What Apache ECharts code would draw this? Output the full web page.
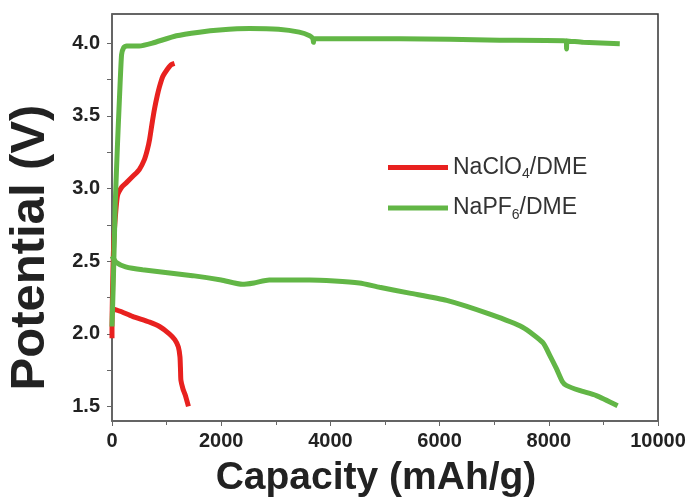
<!DOCTYPE html>
<html>
<head>
<meta charset="utf-8">
<script src="https://cdn.jsdelivr.net/npm/echarts@6/dist/echarts.min.js"></script>
<style>
  html, body { margin: 0; padding: 0; background: #fff; }
  #chart { width: 695px; height: 503px; }
</style>
</head>
<body>
<div id="chart"></div>
<script>
// capacity (mAh/g), potential (V)
var naclo4Charge = [[0,1.97],[0,2.05],[10,2.3],[25,2.55],[45,2.72],[100,2.95],[180,3.01],[265,3.04],[400,3.09],[500,3.13],[595,3.2],[650,3.27],[690,3.34],[735,3.45],[780,3.55],[830,3.64],[870,3.70],[930,3.77],[995,3.81],[1080,3.85],[1145,3.86]];
var naclo4Discharge = [[30,2.17],[150,2.155],[375,2.12],[690,2.08],[870,2.05],[1050,2.0],[1150,1.96],[1215,1.91],[1245,1.84],[1255,1.75],[1262,1.68],[1300,1.62],[1340,1.58],[1400,1.5]];
var napf6Charge = [[0,2.05],[20,2.3],[40,2.6],[60,2.9],[100,3.3],[140,3.65],[175,3.92],[215,3.97],[265,3.98],[500,3.98],[740,4.0],[1180,4.05],[1600,4.075],[1970,4.09],[2520,4.1],[3050,4.095],[3430,4.075],[3620,4.05],[3680,4.03],[3690,4.005],[3700,4.03],[3800,4.03],[5270,4.03],[7100,4.02],[8320,4.015],[8325,3.96],[8335,4.015],[8630,4.005],[9300,3.995]];
var napf6Discharge = [[0,2.535],[80,2.49],[250,2.46],[560,2.44],[1475,2.40],[2000,2.37],[2390,2.34],[2600,2.35],[2880,2.37],[3620,2.37],[4530,2.35],[4900,2.32],[5450,2.28],[6130,2.23],[6920,2.135],[7520,2.045],[7890,1.94],[8020,1.85],[8140,1.76],[8250,1.67],[8320,1.645],[8560,1.61],[8870,1.575],[9260,1.505]];

var xTicks = [0, 2000, 4000, 6000, 8000, 10000];
var yLabels = [1.5, 2.0, 2.5, 3.0, 3.5, 4.0];
var yTicks = [1.5, 1.75, 2.0, 2.25, 2.5, 2.75, 3.0, 3.25, 3.5, 3.75, 4.0];

var red = '#e8211f';
var green = '#62b646';
var font = '"Liberation Sans", Arial, sans-serif';

var chart = echarts.init(document.getElementById('chart'));

function legendText(name) {
  // digit after the formula is a subscript
  return name.replace(/(\d)/, '{sub|$1}');
}

var option = {
  animation: false,
  grid: {
    left: 112, right: 37, top: 14, bottom: 82,
    outerBoundsMode: 'none',
    show: true, borderColor: '#333', borderWidth: 1.5
  },
  legend: {
    orient: 'vertical',
    left: 383, top: 151,
    itemWidth: 60, itemHeight: 5, itemGap: 15,
    icon: 'rect',
    formatter: legendText,
    textStyle: {
      fontFamily: font, fontSize: 23, color: '#333',
      rich: { sub: { fontFamily: font, fontSize: 14, color: '#333', padding: [14, 0, 0, 0] } }
    },
    data: ['NaClO4/DME', 'NaPF6/DME']
  },
  xAxis: {
    type: 'value', min: 0, max: 10000, interval: 2000,
    name: 'Capacity (mAh/g)', nameLocation: 'middle', nameGap: 38,
    nameTextStyle: { fontFamily: font, fontWeight: 'bold', fontSize: 39, color: '#222', padding: [0, 18, 0, 0] },
    axisLine: { show: true, lineStyle: { color: '#666', width: 1.5 } },
    axisTick: { show: true, length: 5, lineStyle: { color: '#666' } },
    minorTick: { show: true, splitNumber: 2, length: 4, lineStyle: { color: '#666' } },
    splitLine: { show: false },
    axisLabel: {
      margin: 10, fontFamily: font, fontWeight: 'bold', fontSize: 20, color: '#222',
      customValues: xTicks,
      formatter: function (v) { return String(v); }
    }
  },
  yAxis: {
    type: 'value', min: 1.4, max: 4.2,
    name: 'Potential (V)', nameLocation: 'middle', nameGap: 57,
    nameTextStyle: { fontFamily: font, fontWeight: 'bold', fontSize: 49, color: '#222', padding: [0, 60, 0, 0] },
    axisLine: { show: true, lineStyle: { color: '#666', width: 1.5 } },
    axisTick: { show: true, length: 5, customValues: yTicks, lineStyle: { color: '#666' } },
    splitLine: { show: false },
    axisLabel: {
      margin: 12, fontFamily: font, fontWeight: 'bold', fontSize: 20, color: '#222',
      customValues: yLabels,
      formatter: function (v) { return v.toFixed(1); }
    }
  },
  series: [
    { name: 'NaClO4/DME', type: 'line', data: naclo4Charge, showSymbol: false, smooth: 0.2, color: red, lineStyle: { width: 5, color: red }, z: 2 },
    { name: 'NaClO4/DME', type: 'line', data: naclo4Discharge, showSymbol: false, smooth: 0.2, color: red, lineStyle: { width: 5, color: red }, z: 2 },
    { name: 'NaPF6/DME', type: 'line', data: napf6Charge, showSymbol: false, smooth: 0.15, color: green, lineStyle: { width: 5, color: green }, z: 3 },
    { name: 'NaPF6/DME', type: 'line', data: napf6Discharge, showSymbol: false, smooth: 0.2, color: green, lineStyle: { width: 5, color: green }, z: 3 }
  ]
};

chart.setOption(option);
</script>
</body>
</html>
